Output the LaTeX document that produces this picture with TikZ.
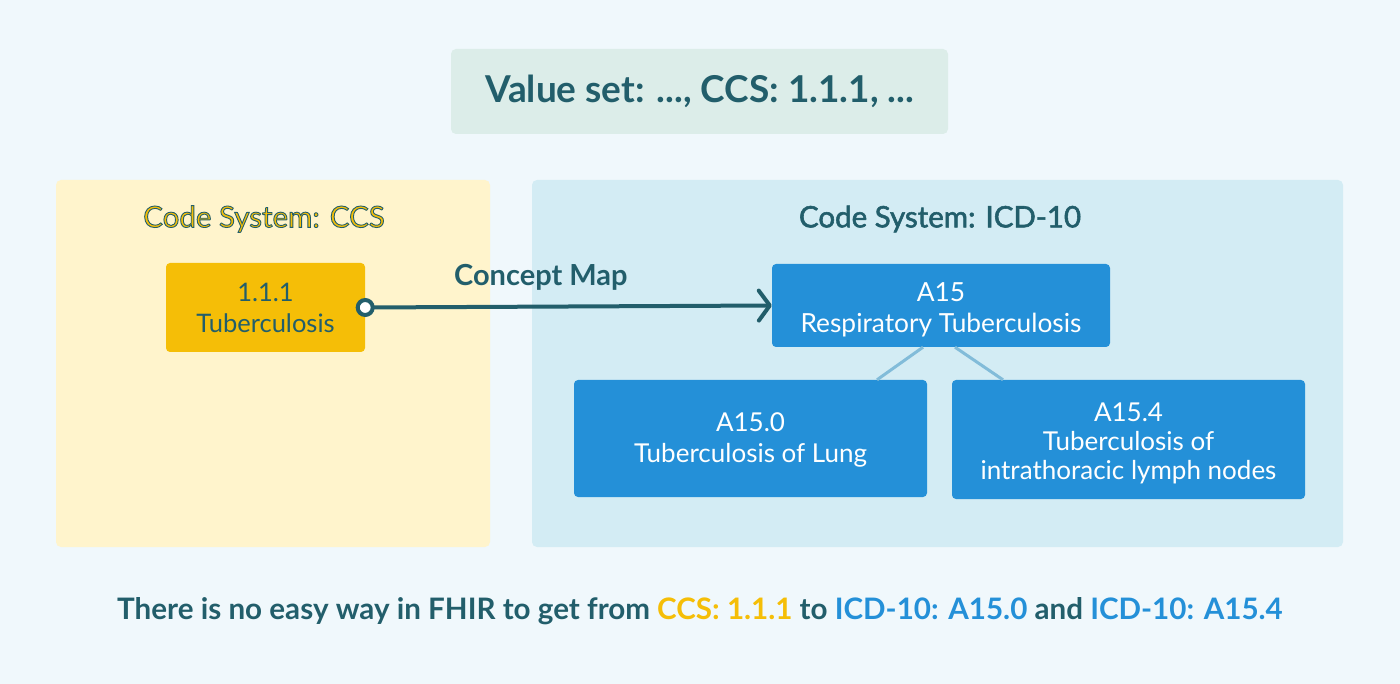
\documentclass[tikz,border=0pt]{standalone}
\usepackage{fontspec}
\setmainfont{Lato}
\usetikzlibrary{arrows.meta}
\definecolor{bgc}{HTML}{F0F8FC}
\definecolor{dteal}{HTML}{225E6B}
\definecolor{vsfill}{HTML}{DCEDE9}
\definecolor{ccsfill}{HTML}{FFF4CC}
\definecolor{gold}{HTML}{F5BE07}
\definecolor{icdfill}{HTML}{D3ECF4}
\definecolor{icdblue}{HTML}{2490D8}
\definecolor{linkblue}{HTML}{82BCD9}
\newcommand\outlinedtext[1]{\special{pdf:literal direct 2 Tr 0.9 w 0.133 0.369 0.420 RG}#1\special{pdf:literal direct 0 Tr}}
\newcommand\heaviertext[1]{\special{pdf:literal direct 2 Tr 0.55 w 0.133 0.369 0.420 RG}#1\special{pdf:literal direct 0 Tr}}
\tikzset{
  panel/.style={rounded corners=5pt, inner sep=0pt},
  codebox/.style={rounded corners=4pt, fill=icdblue, text=white, align=center, inner sep=0pt},
  link/.style={linkblue, line width=3pt},
  maparrow/.style={dteal, line width=4pt, -{Straight Barb[length=11pt,width=30pt,line cap=round,line join=round]}},
}
\begin{document}
\begin{tikzpicture}[x=1pt,y=-1pt]
\fill[bgc] (0,0) rectangle (1400,684);
\useasboundingbox (0,0) rectangle (1400,684);
% value set
\node[panel, fill=vsfill, minimum width=497pt, minimum height=85pt, text=dteal, font=\bfseries\fontsize{37}{40}\selectfont] (vs) at (699.5,91.5) {Value set: ..., CCS: 1.1.1, ...};
% code system panels
\node[panel, fill=ccsfill, minimum width=434pt, minimum height=367pt] (ccs) at (273,363.5) {};
\node[panel, fill=icdfill, minimum width=811pt, minimum height=367pt] (icd) at (937.5,363.5) {};
\node[text=gold, font=\fontsize{29.5}{30}\selectfont, inner sep=0pt] (ccstitle) at (264,219) {\outlinedtext{Code System: CCS}};
\node[text=dteal, font=\fontsize{29.5}{30}\selectfont, inner sep=0pt] (icdtitle) at (940,219) {\heaviertext{Code System: ICD-10}};
% CCS item
\node[rounded corners=4pt, fill=gold, text=dteal, align=center, inner sep=0pt, minimum width=199pt, minimum height=89pt, font=\fontsize{25.5}{31}\selectfont] (ccsitem) at (265.5,307.5) {1.1.1\\Tuberculosis};
% ICD items
\node[codebox, minimum width=338pt, minimum height=83pt, text height=57.8pt, font=\fontsize{26.3}{31}\selectfont] (a15) at (941,305.5) {A15\\Respiratory Tuberculosis};
\node[codebox, minimum width=353pt, minimum height=117pt, text height=53.6pt, font=\fontsize{26}{31}\selectfont] (a150) at (750.5,438.5) {A15.0\\Tuberculosis of Lung};
\node[codebox, minimum width=353pt, minimum height=119pt, text height=84.6pt, font=\fontsize{26}{29}\selectfont] (a154) at (1128.5,439.5) {A15.4\\Tuberculosis of\\intrathoracic lymph nodes};
\draw[link] ([xshift=-18pt]a15.south) -- ([xshift=126.5pt]a150.north);
\draw[link] ([xshift=14pt]a15.south) -- ([xshift=-125.5pt]a154.north);
% concept map arrow
\draw[maparrow] (ccsitem.east) -- (a15.west)
  node[pos=0.432, yshift=29pt, text=dteal, font=\bfseries\fontsize{29}{30}\selectfont] (cmlabel) {Concept Map};
\node[circle, draw=dteal, line width=4pt, fill=white, minimum size=15pt, inner sep=0pt] (cmstart) at (ccsitem.east) {};
% bottom statement
\node[font=\bfseries\fontsize{29.6}{30}\selectfont, text=dteal, inner sep=0pt] (note) at (700,611) {There is no easy way in FHIR to get from \textcolor{gold}{CCS: 1.1.1} to \textcolor{icdblue}{ICD-10: A15.0} and \textcolor{icdblue}{ICD-10: A15.4}};
\end{tikzpicture}
\end{document}
